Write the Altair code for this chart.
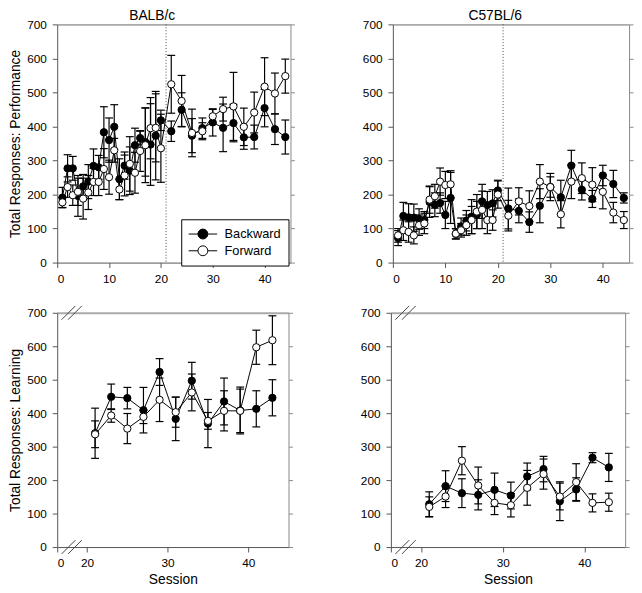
import altair as alt
import pandas as pd

FONT = "Liberation Sans"

# ---------------- data ----------------
perf_sessions = list(range(1, 21)) + list(range(22, 45, 2))
learn_sessions = list(range(21, 44, 2))

balb_perf_back = [191, 277, 277, 196, 224, 238, 284, 280, 383, 360, 399, 245, 285, 270, 345, 366, 354, 347, 373, 418,
                  386, 449, 373, 395, 412, 396, 410, 368, 369, 454, 392, 369]
balb_perf_back_err = [30, 40, 35, 60, 35, 50, 50, 35, 75, 65, 65, 60, 40, 70, 50, 20, 100, 120, 130, 30,
                      30, 50, 50, 30, 40, 70, 55, 35, 35, 55, 45, 50]
balb_perf_fwd = [177, 222, 198, 208, 188, 206, 237, 237, 275, 251, 330, 215, 256, 290, 264, 328, 345, 395, 396, 336,
                 524, 475, 381, 386, 430, 451, 459, 399, 441, 517, 497, 548]
balb_perf_fwd_err = [15, 30, 30, 40, 60, 50, 40, 40, 60, 50, 35, 30, 60, 80, 60, 60, 110, 90, 100, 100,
                     85, 75, 70, 25, 20, 35, 100, 55, 60, 85, 60, 50]

c57_perf_back = [72, 137, 133, 132, 128, 125, 178, 170, 175, 140, 190, 84, 106, 123, 135, 140, 180, 169, 174, 212,
                 159, 152, 119, 167, 222, 192, 285, 214, 187, 256, 231, 190]
c57_perf_back_err = [22, 40, 40, 40, 30, 25, 45, 35, 30, 40, 75, 15, 25, 30, 50, 40, 50, 40, 40, 30,
                     60, 35, 30, 50, 40, 50, 45, 30, 25, 30, 40, 15]
c57_perf_fwd = [80, 95, 90, 80, 110, 115, 185, 195, 238, 228, 230, 85, 95, 110, 125, 150, 155, 125, 125, 200,
                138, 180, 166, 238, 222, 142, 238, 248, 229, 208, 147, 125]
c57_perf_fwd_err = [20, 30, 30, 25, 30, 30, 40, 35, 40, 40, 40, 15, 20, 30, 40, 50, 55, 40, 30, 40,
                    45, 40, 45, 50, 30, 40, 50, 45, 50, 50, 30, 25]

balb_learn_back = [340, 449, 445, 409, 523, 383, 497, 369, 435, 408, 413, 446]
balb_learn_back_err = [75, 38, 32, 68, 40, 65, 55, 72, 70, 70, 54, 54]
balb_learn_fwd = [337, 393, 354, 389, 440, 403, 462, 377, 407, 407, 597, 618]
balb_learn_fwd_err = [40, 20, 45, 20, 65, 45, 55, 25, 60, 65, 51, 73]

c57_learn_back = [128, 182, 161, 156, 171, 154, 211, 233, 137, 172, 267, 238]
c57_learn_back_err = [37, 46, 43, 45, 50, 40, 40, 38, 58, 35, 15, 42]
c57_learn_fwd = [120, 151, 258, 184, 132, 125, 177, 218, 151, 194, 132, 134]
c57_learn_fwd_err = [30, 33, 42, 55, 35, 35, 52, 45, 40, 55, 27, 27]

groups = ["Backward", "Forward"]
phase_boundary = [21]
break_positions = [17.7, 18.5]
y_ticks = list(range(0, 701, 100))
top_x_ticks = [0, 10, 20, 30, 40]
bottom_x_start = 16.3
bottom_x_ticks = [bottom_x_start, 20, 30, 40]

# legend symbol: line segment - circle - line segment (unit coords, scaled by sqrt(size)/2)
LEGEND_PATH = ("M-1.93,0L-0.67,0M0.67,0L1.93,0"
               "M0.67,0A0.67,0.67,0,1,1,-0.67,0A0.67,0.67,0,1,1,0.67,0Z")


def make_df(sessions, bv, be, fv, fe):
    rows = []
    for g, vals, errs in ((groups[0], bv, be), (groups[1], fv, fe)):
        for s, v, e in zip(sessions, vals, errs):
            rows.append({"session": s, "value": v, "lo": v - e, "hi": v + e, "group": g})
    return pd.DataFrame(rows)


def panel(df, width, height, xdomain, xvalues, bottom, y_title, title=None, title_dx=0,
          legend=False, vline=False, breaks=False):
    xs = alt.Scale(domain=xdomain, nice=False, zero=False)
    ys = alt.Scale(domain=[0, 700], nice=False)
    if bottom:
        xa = alt.Axis(values=xvalues, format="d", title="Session",
                      labelExpr="datum.value < 17 ? '0' : datum.label")
    else:
        xa = alt.Axis(values=xvalues, format="d", title=None)
    ya = alt.Axis(values=y_ticks, title=y_title)

    def X(f):
        return alt.X(f, type="quantitative", scale=xs, axis=xa)

    def Y(f):
        return alt.Y(f, type="quantitative", scale=ys, axis=ya)

    base = alt.Chart(df)
    line = base.mark_line(color="black", strokeWidth=1).encode(
        x=X("session"), y=Y("value"), detail="group:N")
    err = base.mark_rule(color="black", strokeWidth=1.2).encode(
        x=X("session"), y=Y("lo"), y2="hi:Q")
    cap_lo = base.mark_rule(color="black", strokeWidth=1.2, xOffset=-4, x2Offset=4).encode(
        x=X("session"), x2="session:Q", y=Y("lo"))
    cap_hi = base.mark_rule(color="black", strokeWidth=1.2, xOffset=-4, x2Offset=4).encode(
        x=X("session"), x2="session:Q", y=Y("hi"))
    if legend:
        leg = alt.Legend(title=None, orient="none", legendX=126, legendY=198,
                         strokeColor="black", padding=7, symbolType=LEGEND_PATH,
                         symbolSize=225, symbolOffset=7, symbolStrokeColor="black",
                         symbolStrokeWidth=1, labelFontSize=13, labelFont=FONT,
                         rowPadding=1, labelOffset=14, fillColor="white")
    else:
        leg = None
    pts = base.mark_point(filled=True, size=55, stroke="black", strokeWidth=1, opacity=1).encode(
        x=X("session"), y=Y("value"),
        fill=alt.Fill("group:N", scale=alt.Scale(domain=groups, range=["black", "white"]), legend=leg))
    layers = [line, err, cap_lo, cap_hi, pts]
    if vline:
        vl = alt.Chart(pd.DataFrame({"session": phase_boundary})).mark_rule(
            color="#444", strokeDash=[1, 2], strokeWidth=1).encode(x=X("session"))
        layers.insert(0, vl)
    main = alt.layer(*layers)

    frame = base.mark_point(opacity=0).encode(
        x=alt.X("session", type="quantitative", scale=xs,
                axis=alt.Axis(orient="top", labels=False, ticks=False, title=None,
                              domainColor="#aaaaaa", domainWidth=2)),
        y=alt.Y("value", type="quantitative", scale=ys,
                axis=alt.Axis(orient="right", labels=False, values=y_ticks, title=None,
                              tickSize=4, domainColor="#888888", tickColor="#888888")))
    parts = [main, frame]
    if breaks:
        bdf = pd.DataFrame({"session": break_positions * 2,
                            "value": [0, 0, 700, 700]})
        brk = alt.Chart(bdf).mark_rule(color="#444", strokeWidth=1, xOffset=-7, x2Offset=7,
                                       yOffset=7, y2Offset=-7).encode(
            x=alt.X("session", type="quantitative", scale=xs, axis=None),
            x2="session:Q",
            y=alt.Y("value", type="quantitative", scale=ys, axis=None),
            y2="value:Q")
        parts.append(brk)
    ch = alt.layer(*parts).resolve_axis(x="independent", y="independent").properties(
        width=width, height=height)
    if title:
        ch = ch.properties(title=alt.TitleParams(title, fontSize=14, fontWeight="normal",
                                                 font=FONT, offset=-5, dx=title_dx))
    return ch


tl = panel(make_df(perf_sessions, balb_perf_back, balb_perf_back_err, balb_perf_fwd, balb_perf_fwd_err),
           237, 242, [0, 45], top_x_ticks, False, "Total Responses: Performance",
           title="BALB/c", title_dx=-22, legend=True, vline=True)
tr = panel(make_df(perf_sessions, c57_perf_back, c57_perf_back_err, c57_perf_fwd, c57_perf_fwd_err),
           240, 242, [0, 45], top_x_ticks, False, None, title="C57BL/6", title_dx=-16, vline=True)
bl = panel(make_df(learn_sessions, balb_learn_back, balb_learn_back_err, balb_learn_fwd, balb_learn_fwd_err),
           235, 238, [bottom_x_start, 45], bottom_x_ticks, True, "Total Responses: Learning", breaks=True)
br = panel(make_df(learn_sessions, c57_learn_back, c57_learn_back_err, c57_learn_fwd, c57_learn_fwd_err),
           238, 238, [bottom_x_start, 45], bottom_x_ticks, True, None, breaks=True)

top = alt.hconcat(tl, tr, spacing=67).resolve_scale(fill="independent")
bottom = alt.hconcat(bl, br, spacing=67).resolve_scale(fill="independent")

chart = alt.vconcat(top, bottom, spacing=21).resolve_scale(fill="independent").properties(
    padding={"left": 0, "top": -3, "right": 0, "bottom": 0}
).configure_view(stroke=None).configure_axis(
    grid=False, labelFont=FONT, titleFont=FONT, labelFontSize=12, titleFontSize=14,
    titleFontWeight="normal", labelColor="black", titleColor="black",
    domainColor="#555555", tickColor="#555555", tickSize=5, labelPadding=6, titlePadding=4
).configure_title(anchor="middle")

chart.save("out.html", embed_options={"renderer": "svg", "actions": False})
